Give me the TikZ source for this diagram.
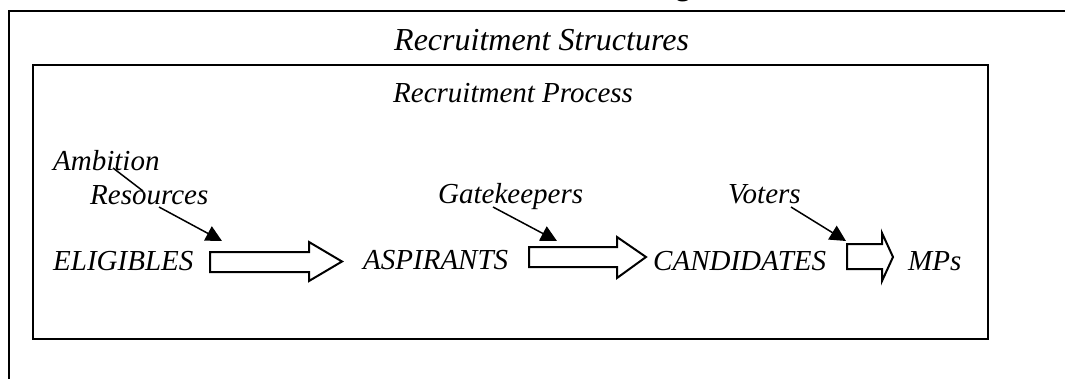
\documentclass[tikz,border=0pt]{standalone}
\usepackage{fontspec}
\setmainfont{Liberation Serif}
\usetikzlibrary{arrows.meta}
\begin{document}
\begin{tikzpicture}[x=1pt,y=-1pt,
  lbl/.style={font=\fontsize{29}{32}\selectfont\itshape, inner sep=0pt, anchor=base west},
  boxline/.style={line width=2pt},
  feed/.style={line width=1.5pt, -{Triangle[length=16pt,width=16pt]}},
  plainfeed/.style={line width=1.5pt},
  blockarr/.style={line width=2pt, fill=white, line join=miter}]
\clip (0,0) rectangle (1065,378);
\fill[white] (0,0) rectangle (1065,378);
% cut-off title
\node[font=\fontsize{29}{32}\selectfont\bfseries, inner sep=0pt, anchor=base] (ttl) at (683,-4.5) {g};
% outer structure box (open to the right and bottom)
\draw[boxline] (8.5,400) -- (8.5,11) -- (1080,11);
\node[font=\fontsize{32}{36}\selectfont\itshape, inner sep=0pt, anchor=base west] (struct) at (394,50) {Recruitment Structures};
% inner process box
\draw[boxline] (33,65) rectangle (988,339);
\node[lbl] (proc) at (393,102) {Recruitment Process};
% factor labels
\node[lbl] (amb) at (53,170) {Ambition};
\node[lbl] (res) at (90,204) {Resources};
\node[lbl] (gate) at (438,203) {Gatekeepers};
\node[lbl] (vot) at (728,203) {Voters};
% stage labels
\node[lbl] (eli) at (53,270) {ELIGIBLES};
\node[lbl] (asp) at (363,269) {ASPIRANTS};
\node[lbl] (can) at (653,270) {CANDIDATES};
\node[lbl] (mps) at (908,270) {MPs};
% block arrows
\draw[blockarr] (210,252) -- (309,252) -- (309,242) -- (342,261.5) -- (309,281) -- (309,272) -- (210,272) -- cycle;
\draw[blockarr] (529,247) -- (617,247) -- (617,237) -- (646,257) -- (617,278) -- (617,267) -- (529,267) -- cycle;
\draw[blockarr] (847,244) -- (882,244) -- (882,233) -- (893,257) -- (882,281) -- (882,269) -- (847,269) -- cycle;
% influence arrows
\coordinate (a0s) at (113,168);
\coordinate (a0e) at (143,191);
\coordinate (a1s) at (159,207);
\coordinate (a1e) at (222,241);
\coordinate (a2s) at (493,207);
\coordinate (a2e) at (557,241);
\coordinate (a3s) at (791,207);
\coordinate (a3e) at (846,241);
\draw[plainfeed] (a0s) -- (a0e);
\draw[feed] (a1s) -- (a1e);
\draw[feed] (a2s) -- (a2e);
\draw[feed] (a3s) -- (a3e);
\end{tikzpicture}
\end{document}
